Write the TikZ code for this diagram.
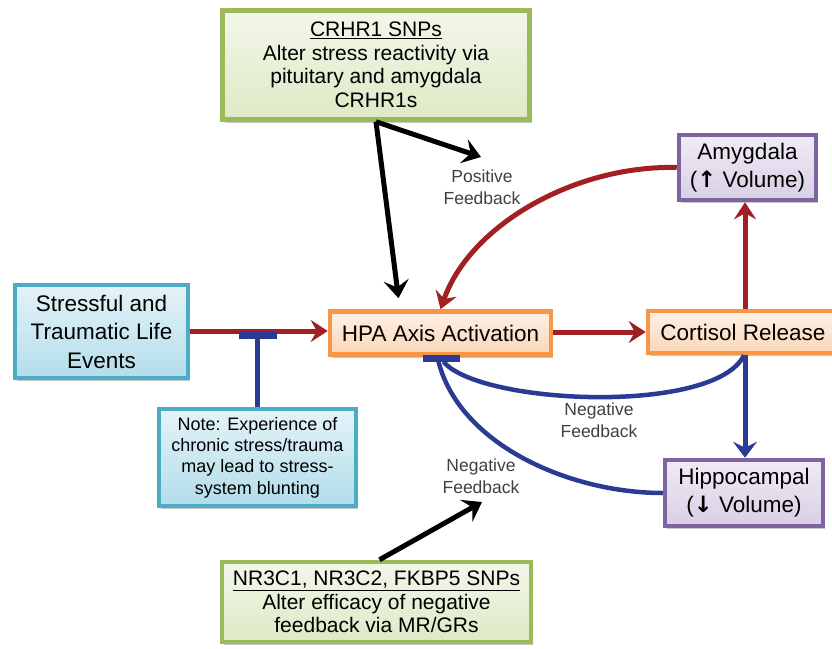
\documentclass[tikz,border=0pt]{standalone}
\usepackage{fontspec}
\setmainfont{Liberation Sans}
\newfontfamily\arrfont{DejaVu Sans}
\usetikzlibrary{arrows.meta,shadows,calc}
\definecolor{grnB}{HTML}{9BBB59}
\definecolor{grnT}{HTML}{F3F7E9}
\definecolor{grnD}{HTML}{DDE9C6}
\definecolor{bluB}{HTML}{4BACC6}
\definecolor{bluT}{HTML}{E4F3F8}
\definecolor{bluD}{HTML}{B3DDEA}
\definecolor{orgB}{HTML}{F79646}
\definecolor{orgT}{HTML}{FEF1E7}
\definecolor{orgD}{HTML}{FBD6B6}
\definecolor{purB}{HTML}{8064A2}
\definecolor{purT}{HTML}{F0ECF5}
\definecolor{purD}{HTML}{D8CFE5}
\definecolor{redC}{HTML}{A21F22}
\definecolor{bluC}{HTML}{2B3A93}
\definecolor{lblC}{HTML}{404040}
\begin{document}
\begin{tikzpicture}[x=1pt,y=-1pt,
  box/.style={draw, line width=4.5pt, align=center, inner sep=0pt, text=black,
    drop shadow={shadow xshift=2pt,shadow yshift=-3pt,opacity=0.3,fill=black!70}},
  gbox/.style={box, draw=grnB, top color=grnT, bottom color=grnD, font=\fontsize{21}{23.5}\selectfont},
  bbox/.style={box, draw=bluB, top color=bluT, bottom color=bluD},
  obox/.style={box, draw=orgB, top color=orgT, bottom color=orgD, font=\fontsize{22.5}{28}\selectfont},
  pbox/.style={box, draw=purB, top color=purT, bottom color=purD, font=\fontsize{22.5}{28}\selectfont},
  lbl/.style={align=center, text=lblC, font=\fontsize{17.5}{21.5}\selectfont, inner sep=1pt},
  redarr/.style={draw=redC, line width=5pt, -{Stealth[length=17pt,width=22pt,inset=6pt]}},
  bluarr/.style={draw=bluC, line width=5pt, -{Stealth[length=16pt,width=24pt,inset=6pt]}},
  bluln/.style={draw=bluC, line width=4.5pt},
  blkarr/.style={draw=black, line width=5pt, -{Stealth[length=18pt,width=25pt,inset=7pt]}},
  tbar/.style={draw=bluC, line width=7pt}
]
\useasboundingbox (0,0) rectangle (832,648);
\fill[white] (0,0) rectangle (832,648);

% boxes
\node[gbox, minimum width=307pt, minimum height=109pt] (crhr) at (376,65)
  {\underline{CRHR1 SNPs}\\Alter stress reactivity via\\pituitary and amygdala\\CRHR1s};
\node[pbox, minimum width=137pt, minimum height=65pt] (amyg) at (747.5,167.5)
  {Amygdala\\({\arrfont\bfseries ↑} Volume)};
\node[bbox, minimum width=173pt, minimum height=93pt, font=\fontsize{22.5}{28.5}\selectfont] (stress) at (101.5,331.5)
  {Stressful and\\Traumatic Life\\Events};
\node[obox, minimum width=221pt, minimum height=43pt] (hpa) at (440.5,333)
  {HPA Axis Activation};
\node[obox, minimum width=190pt, minimum height=42pt] (cort) at (743,332)
  {Cortisol Release};
\node[bbox, minimum width=197pt, minimum height=97pt, font=\fontsize{18}{21.3}\selectfont] (note) at (257.5,457.5)
  {Note: Experience of\\chronic stress/trauma\\may lead to stress-\\system blunting};
\node[pbox, minimum width=158pt, minimum height=66pt] (hippo) at (744,493)
  {Hippocampal\\({\arrfont\bfseries ↓} Volume)};
\node[gbox, minimum width=309pt, minimum height=80pt] (nr) at (376.5,602)
  {\underline{NR3C1, NR3C2, FKBP5 SNPs}\\Alter efficacy of negative\\feedback via MR/GRs};

% labels
\node[lbl] (pf) at (482,187) {Positive\\Feedback};
\node[lbl] (nf1) at (599,420) {Negative\\Feedback};
\node[lbl] (nf2) at (481,476) {Negative\\Feedback};

% helper coordinates
\coordinate (blt) at (257.5,335);
\coordinate (pfIn) at (481,157);
\coordinate (nfIn) at (482,502);
\coordinate (hpaIn) at ($(hpa.north)+(-42,-11)$);

% red pathway
\draw[redarr] (stress.east |- 0,331) -- (hpa.west |- 0,331);
\draw[redarr] (hpa.east |- 0,332) -- (cort.west |- 0,332);
\draw[redarr] (cort.north -| 745,0) -- (amyg.south -| 745,0);
\draw[redarr] (amyg.west) .. controls (575,165) and (470,225) .. (hpa.north);

% blunting
\draw[bluln, line width=5pt] (note.north) -- (blt);
\draw[tbar] ($(blt)+(-19,0)$) -- ($(blt)+(19,0)$);

% negative feedback
\draw[bluarr] (cort.south -| 745,0) -- (hippo.north -| 745,0);
\draw[bluln] (cort.south -| 744,0) .. controls (715,415) and (480,405) .. ($(hpa.south)+(3,5)$);
\draw[bluln] (hippo.west) .. controls (570,493) and (460,445) .. ($(hpa.south)+(-2,5)$);
\draw[tbar] ($(hpa.south)+(-18,2)$) -- ($(hpa.south)+(19,2)$);

% genetic influences
\draw[blkarr] (crhr.south) -- (hpaIn);
\draw[blkarr] (crhr.south) -- (pfIn);
\draw[blkarr] ($(nr.north)+(3,0)$) -- (nfIn);
\end{tikzpicture}
\end{document}
